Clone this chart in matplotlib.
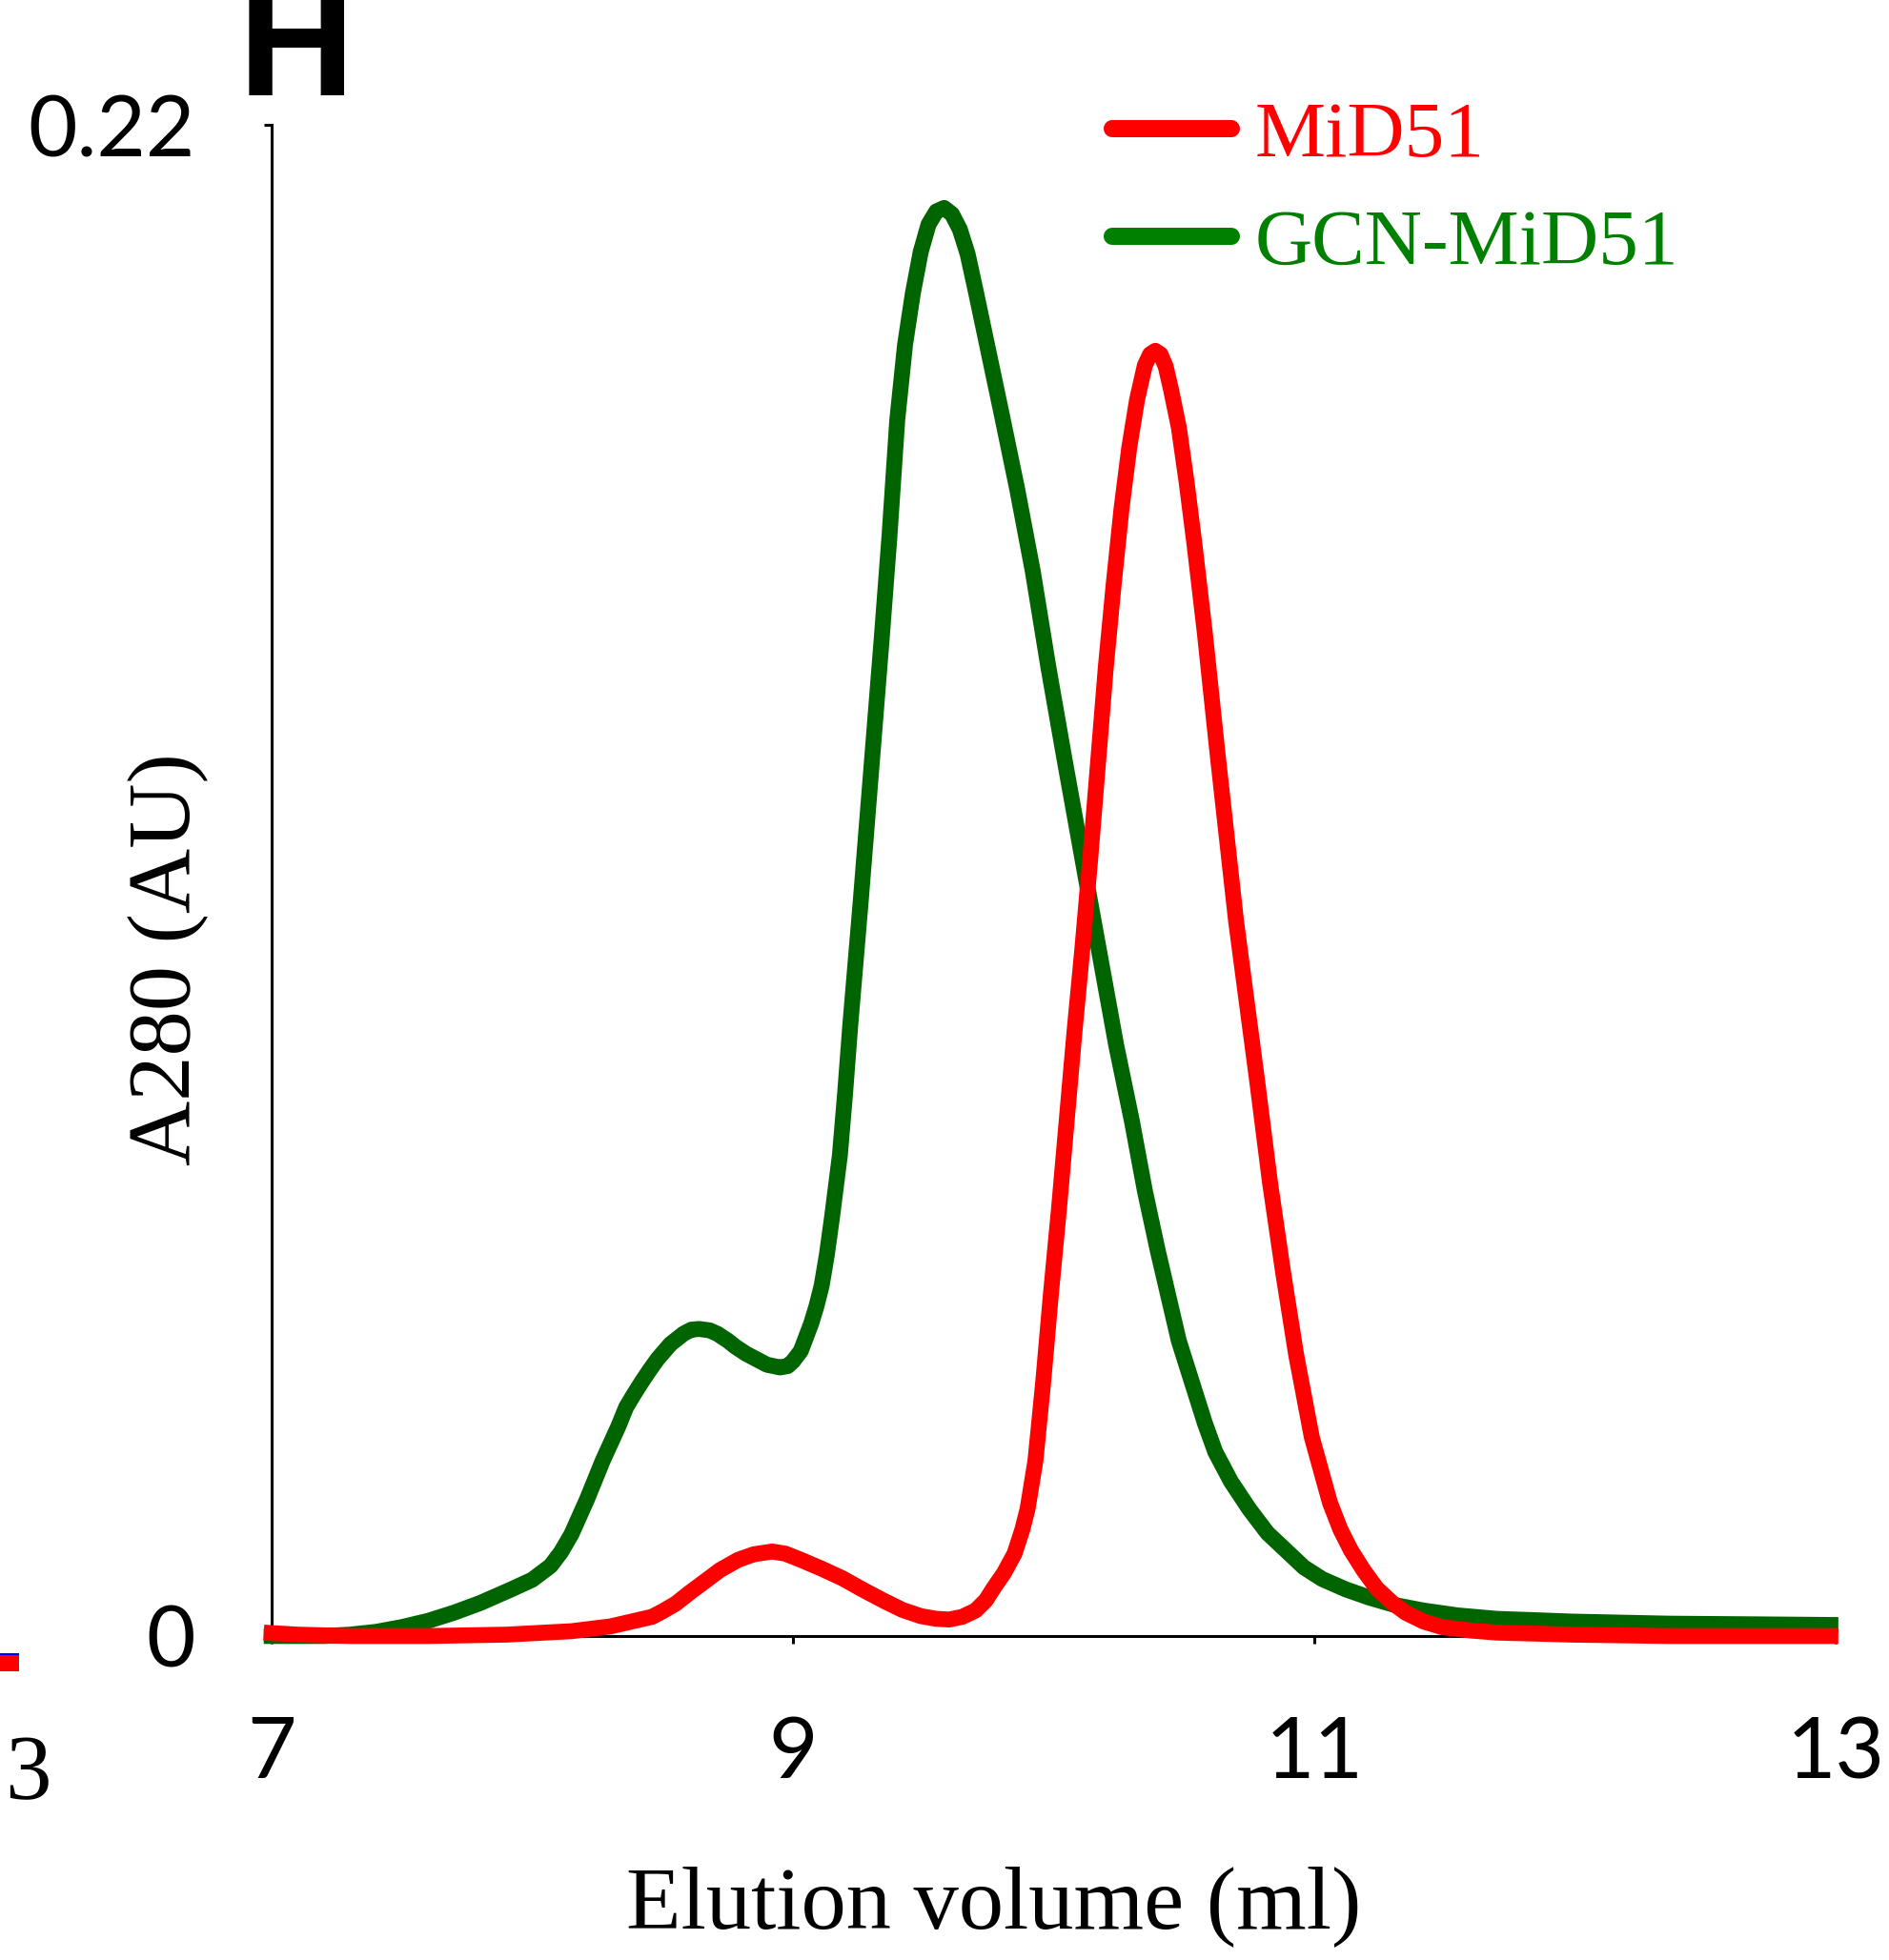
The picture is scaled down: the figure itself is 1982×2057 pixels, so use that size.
import matplotlib
matplotlib.use('Agg')
from matplotlib import pyplot as plt
from matplotlib.lines import Line2D

# GCN-MiD51 trace (elution volume ml, A280 AU)
gcn_volume = [6.97, 7.10, 7.20, 7.30, 7.40, 7.50, 7.60, 7.70, 7.80, 7.92, 8.00, 8.07,
              8.11, 8.15, 8.21, 8.27, 8.33, 8.36, 8.39, 8.42, 8.45, 8.48, 8.53, 8.58,
              8.61, 8.64, 8.68, 8.71, 8.75, 8.78, 8.82, 8.86, 8.90, 8.95, 8.98, 9.00,
              9.03, 9.05, 9.07, 9.09, 9.11, 9.13, 9.15, 9.18, 9.20, 9.22, 9.26, 9.30,
              9.34, 9.37, 9.40, 9.43, 9.46, 9.49, 9.52, 9.55, 9.58, 9.61, 9.64, 9.67,
              9.70, 9.75, 9.80, 9.86, 9.92, 9.98, 10.04, 10.13, 10.24, 10.30, 10.35,
              10.40, 10.44, 10.48, 10.53, 10.58, 10.62, 10.68, 10.75, 10.82, 10.89,
              10.96, 11.03, 11.12, 11.21, 11.31, 11.42, 11.55, 11.70, 11.85, 11.99,
              12.36, 12.70, 13.01]
gcn_a280 = [0.0000, 0.0000, 0.0000, 0.0002, 0.0006, 0.0013, 0.0022, 0.0034, 0.0048,
            0.0068, 0.0082, 0.0102, 0.0122, 0.0148, 0.0199, 0.0255, 0.0305, 0.0333,
            0.0352, 0.0370, 0.0387, 0.0403, 0.0425, 0.0440, 0.0446, 0.0447, 0.0445,
            0.0440, 0.0430, 0.0421, 0.0411, 0.0403, 0.0395, 0.0391, 0.0393, 0.0400,
            0.0415, 0.0435, 0.0455, 0.0480, 0.0510, 0.0555, 0.0610, 0.0700, 0.0790,
            0.0890, 0.1070, 0.1260, 0.1450, 0.1600, 0.1770, 0.1880, 0.1955, 0.2015,
            0.2055, 0.2074, 0.2079, 0.2070, 0.2048, 0.2012, 0.1960, 0.1870, 0.1780,
            0.1670, 0.1550, 0.1410, 0.1280, 0.1090, 0.0860, 0.0750, 0.0648, 0.0560,
            0.0495, 0.0430, 0.0370, 0.0310, 0.0268, 0.0225, 0.0185, 0.0150, 0.0125,
            0.0100, 0.0083, 0.0068, 0.0056, 0.0045, 0.0037, 0.0030, 0.0025, 0.0023,
            0.0021, 0.0018, 0.0017, 0.0016]

# MiD51 trace
mid_volume = [6.97, 7.10, 7.30, 7.60, 7.90, 8.15, 8.30, 8.46, 8.50, 8.55, 8.60, 8.66,
              8.72, 8.79, 8.85, 8.92, 8.97, 9.03, 9.11, 9.19, 9.27, 9.35, 9.42, 9.49,
              9.55, 9.60, 9.65, 9.70, 9.74, 9.77, 9.81, 9.85, 9.88, 9.90, 9.93, 9.96,
              9.99, 10.02, 10.05, 10.08, 10.11, 10.14, 10.17, 10.20, 10.23, 10.26,
              10.29, 10.32, 10.35, 10.37, 10.39, 10.41, 10.43, 10.45, 10.48, 10.51,
              10.54, 10.58, 10.63, 10.70, 10.78, 10.83, 10.88, 10.93, 10.99, 11.03,
              11.06, 11.10, 11.14, 11.19, 11.24, 11.30, 11.35, 11.42, 11.49, 11.60,
              11.70, 11.99, 12.36, 12.70, 13.01]
mid_a280 = [0.0005, 0.0002, 0.0000, 0.0000, 0.0002, 0.0007, 0.0014, 0.0028, 0.0036,
            0.0047, 0.0062, 0.0079, 0.0096, 0.0111, 0.0119, 0.0123, 0.0120, 0.0111,
            0.0098, 0.0084, 0.0067, 0.0051, 0.0038, 0.0029, 0.0025, 0.0024, 0.0028,
            0.0037, 0.0052, 0.0070, 0.0092, 0.0120, 0.0155, 0.0185, 0.0255, 0.0370,
            0.0500, 0.0620, 0.0750, 0.0880, 0.1000, 0.1130, 0.1270, 0.1410, 0.1530,
            0.1640, 0.1730, 0.1800, 0.1850, 0.1866, 0.1871, 0.1866, 0.1848, 0.1815,
            0.1760, 0.1680, 0.1590, 0.1460, 0.1280, 0.1040, 0.0810, 0.0660, 0.0530,
            0.0410, 0.0290, 0.0235, 0.0194, 0.0155, 0.0125, 0.0095, 0.0069, 0.0048,
            0.0034, 0.0021, 0.0013, 0.0008, 0.0005, 0.0002, 0.0000, 0.0000, 0.0000]

x_ticks = [7, 9, 11, 13]
y_ticks = [0, 0.22]
y_tick_labels = ['0', '0.22']

fig = plt.figure(figsize=(19.83, 20.57), dpi=100)
ax = fig.add_axes([0.1437, 0.1653, 0.8276, 0.771])

ax.plot(gcn_volume, gcn_a280, color='#006400', linewidth=12, clip_on=False,
        zorder=3, solid_capstyle='butt', solid_joinstyle='round')
ax.plot(mid_volume, mid_a280, color='#FF0000', linewidth=12, clip_on=False,
        zorder=4, solid_capstyle='butt', solid_joinstyle='round')

ax.set_xlim(7, 13)
ax.set_ylim(0, 0.22)
ax.set_xticks(x_ticks)
ax.set_yticks(y_ticks)
ax.set_yticklabels(y_tick_labels)
for side in ['top', 'right']:
    ax.spines[side].set_visible(False)
for side in ['left', 'bottom']:
    ax.spines[side].set_linewidth(2.2)
ax.tick_params(direction='out', length=6, width=2.2, labelsize=64)
ax.tick_params(axis='x', pad=54)
ax.tick_params(axis='y', pad=52)
for lab in ax.get_xticklabels() + ax.get_yticklabels():
    lab.set_family('Lato')

ax.set_xlabel('Elution volume (ml)', family='Liberation Serif', fontsize=68)
ax.xaxis.set_label_coords(0.462, -0.152)
ax.set_ylabel('A280 (AU)', family='Liberation Serif', fontsize=68)
ax.yaxis.set_label_coords(-0.040, 0.448)

# 图例
handles = [Line2D([], [], color='#FF0000', linewidth=13, solid_capstyle='round'),
           Line2D([], [], color='#008000', linewidth=13, solid_capstyle='round')]
leg = ax.legend(handles, ['MiD51', 'GCN-MiD51'], loc='upper left',
                bbox_to_anchor=(0.5375, 1.016), frameon=False, borderpad=0,
                borderaxespad=0, handlelength=1.5, handletextpad=0.3,
                labelspacing=0.44, prop={'family': 'Liberation Serif', 'size': 60})
for txt, c in zip(leg.get_texts(), ['#FF0000', '#008000']):
    txt.set_color(c)

# panel letter and fragments of the neighbouring panel
fig.text(0.126, 0.9514, 'H', family='Liberation Sans', fontweight='bold',
         fontsize=122, va='baseline', ha='left')
fig.text(0.0272, 0.0822, '3', family='Liberation Serif', fontsize=70,
         va='baseline', ha='right')
fig.add_artist(Line2D([0, 0.0101], [0.1519, 0.1519], color='#FF0000', linewidth=13,
                      solid_capstyle='butt'))
fig.add_artist(Line2D([0, 0.0101], [0.1560, 0.1560], color='#0000FF', linewidth=1.5,
                      solid_capstyle='butt'))

fig.savefig('out.png', dpi=100)
